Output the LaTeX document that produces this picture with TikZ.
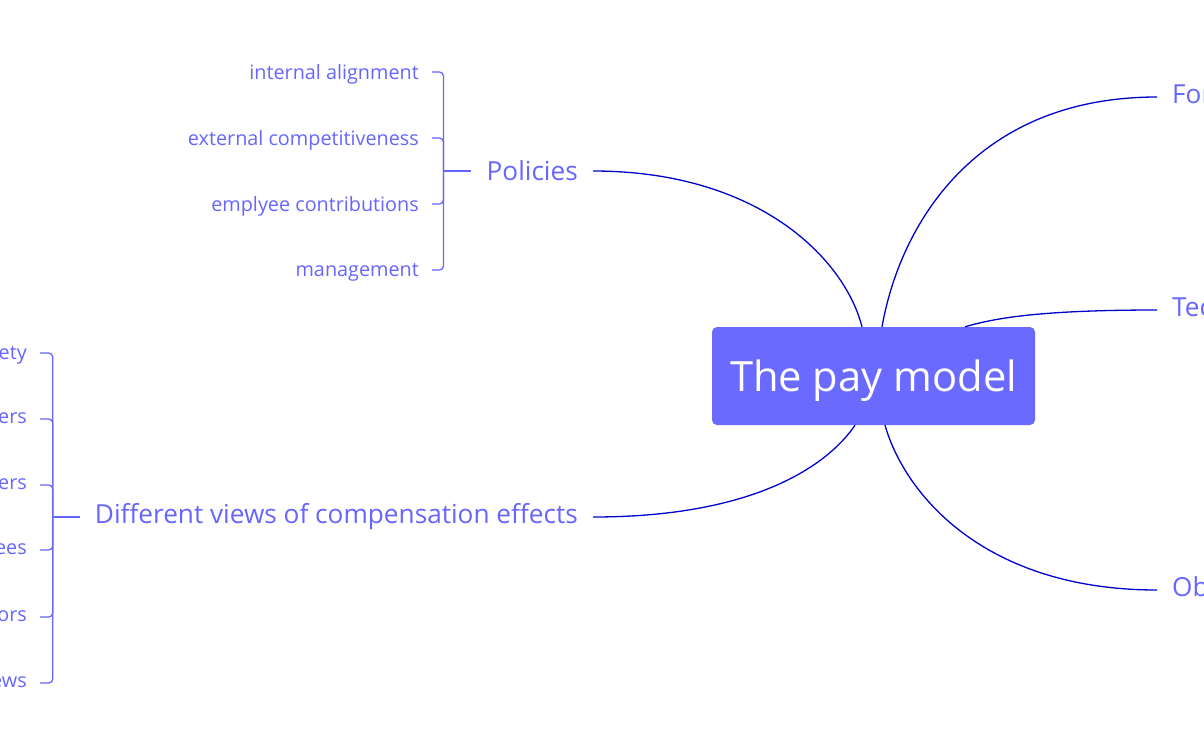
\documentclass[tikz,border=0pt]{standalone}
\usepackage{fontspec}
\setmainfont{Open Sans}
\usetikzlibrary{positioning,calc}
\definecolor{mapblue}{RGB}{102,102,255}
\definecolor{boxblue}{RGB}{106,106,255}
\definecolor{linkblue}{RGB}{0,0,204}

\begin{document}
\begin{tikzpicture}[x=1pt,y=-1pt,
  leaf/.style={text=mapblue,font=\fontsize{19.8}{22}\selectfont,anchor=east,inner xsep=13pt,inner ysep=0pt,text depth=1pt},
  topic/.style={text=mapblue,font=\fontsize{26.2}{30}\selectfont,inner xsep=15pt,inner ysep=0pt},
  brace/.style={draw=mapblue,line width=1.3pt,rounded corners=4pt},
  link/.style={draw=linkblue,line width=1.3pt}]
\useasboundingbox (0,0) rectangle (1204,753);
% central topic
\node[fill=boxblue,rounded corners=5pt,minimum width=323pt,minimum height=98pt,text depth=0pt,text=white,font=\fontsize{41.7}{48}\selectfont] (root) at (873.5,376) {The pay model};
% main branches
\node[topic,anchor=east] (policies) at (593,171) {Policies};
\node[topic,anchor=east] (views) at (593,517) {Different views of compensation effects};
\node[topic,anchor=west] (forms) at (1157,97) {Forms of pay};
\node[topic,anchor=west] (tech) at (1157,310) {Techniques};
\node[topic,anchor=west] (obj) at (1157,590) {Objectives};
\draw[link] (policies.east) .. controls (760,171) and (845,260) .. ($(root.north)+(-11.5,0)$);
\draw[link] (views.east) .. controls (760,517) and (830,462) .. ($(root.south)+(-18.5,0)$);
\draw[link] (forms.west) .. controls (975,97) and (900,225) .. ($(root.north)+(8.5,0)$);
\draw[link] (tech.west) .. controls (1040,310) and (995,318) .. ($(root.north)+(91.5,0)$);
\draw[link] (obj.west) .. controls (985,590) and (905,495) .. ($(root.south)+(11.5,0)$);
% policies
\coordinate (PB) at ($(policies.west)+(-28,0)$);
\foreach \name/\y/\txt in {ia/72/internal alignment,ec/138/external competitiveness,emp/204/emplyee contributions,mgt/270/management} {
  \node[leaf] (\name) at (432,\y) {\txt};
  \draw[brace] (\name.east) -| (PB);
}
\draw[brace] (PB) -- (policies.west);
% views
\coordinate (VB) at ($(views.west)+(-27,0)$);
\foreach \name/\y/\txt in {v1/353/ety,v2/419/ers,v3/485/ers,v4/550/ees,v5/617/ors,v6/683/ews} {
  \node[leaf] (\name) at (40,\y) {\txt};
  \draw[brace] (\name.east) -| (VB);
}
\draw[brace] (VB) -- (views.west);
\end{tikzpicture}
\end{document}
